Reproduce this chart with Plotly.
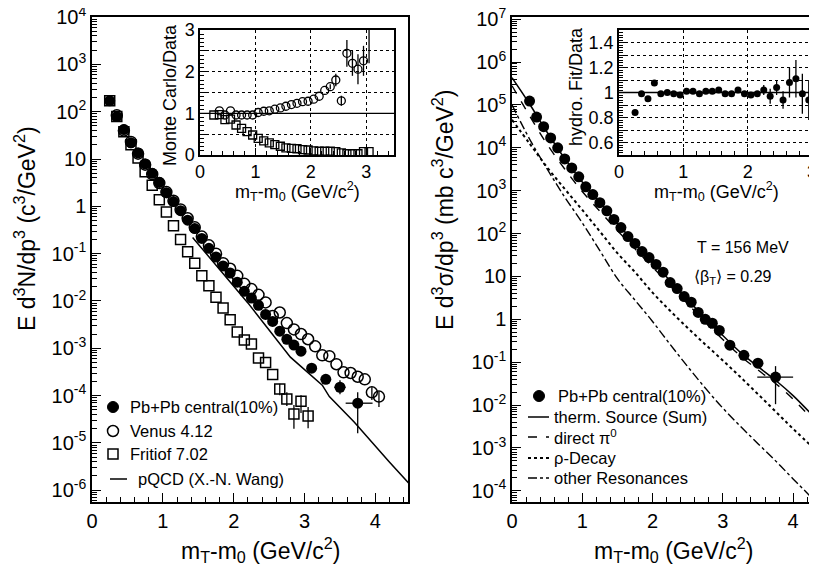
import plotly.graph_objects as go

FONT = "Liberation Sans, Arial, Helvetica, sans-serif"
W, H = 817, 566
OFF = 8  # the page body margin that the browser adds around the figure

# ---------------- Left panel: main spectrum ----------------
left_data_x = [0.25, 0.35, 0.45, 0.55, 0.65, 0.75, 0.85, 0.95, 1.05, 1.15, 1.25, 1.35, 1.45, 1.55,
               1.65, 1.75, 1.85, 1.95, 2.05, 2.15, 2.25, 2.35, 2.45, 2.55, 2.65, 2.75, 2.85, 2.95,
               3.1, 3.3, 3.5, 3.75]
left_data_y = [170, 79, 42, 22, 13.5, 7.9, 5.0, 3.2, 1.95, 1.26, 0.81, 0.51, 0.34, 0.21,
               0.13, 0.085, 0.055, 0.039, 0.025, 0.016, 0.0115, 0.0081, 0.0052, 0.0037, 0.0023,
               0.00155, 0.00117, 0.00087, 3.8e-4, 2.2e-4, 1.5e-4, 6.9e-5]
left_data_eyup = [0] * 28 + [0.76e-4, 0.57e-4, 0.62e-4, 4.8e-5]
left_data_eydn = [0] * 28 + [0.64e-4, 0.45e-4, 0.44e-4, 5.3e-5]
left_data_exup = [0] * 28 + [0.05, 0.07, 0.08, 0.21]
left_data_exdn = [0] * 28 + [0.05, 0.07, 0.08, 0.17]

venus_x = [0.35, 0.45, 0.55, 0.65, 0.75, 0.85, 0.95, 1.05, 1.15, 1.25, 1.35, 1.45, 1.55, 1.65,
           1.75, 1.85, 1.95, 2.05, 2.15, 2.25, 2.35, 2.45, 2.55, 2.65, 2.75, 2.85, 2.95, 3.05,
           3.15, 3.25, 3.35, 3.45, 3.55, 3.65, 3.75, 3.85, 3.95, 4.05]
venus_y = [84, 40, 23, 13, 7.6, 4.8, 3.1, 2.0, 1.32, 0.86, 0.56, 0.36, 0.23, 0.15,
           0.10, 0.063, 0.048, 0.034, 0.023, 0.0178, 0.0135, 0.0093, 0.0048, 0.0057, 0.0034,
           0.0025, 0.002, 0.00155, 0.0011, 7.1e-4, 6.8e-4, 4.6e-4, 3.1e-4, 3.0e-4, 2.5e-4,
           2.2e-4, 1.17e-4, 9.5e-5]
venus_eyup = [0] * 36 + [3.3e-5, 2.5e-5]
venus_eydn = [0] * 36 + [3.6e-5, 3.75e-5]

fritiof_x = [0.25, 0.35, 0.45, 0.55, 0.65, 0.75, 0.85, 0.95, 1.05, 1.15, 1.25, 1.35, 1.45, 1.55,
             1.65, 1.75, 1.85, 1.95, 2.05, 2.15, 2.25, 2.35, 2.45, 2.55, 2.65, 2.75, 2.85, 2.95, 3.05]
fritiof_y = [170, 79, 38, 20, 10.5, 5.4, 2.8, 1.38, 0.76, 0.39, 0.20, 0.11, 0.063, 0.034,
             0.021, 0.012, 0.0071, 0.004, 0.0022, 0.0015, 0.00123, 6.2e-4, 5.0e-4, 2.8e-4,
             1.38e-4, 8.5e-5, 4.1e-5, 7.6e-5, 3.7e-5]
fritiof_eyup = [0] * 24 + [0.4e-4, 3.2e-5, 2.2e-5, 2.6e-5, 2.05e-5]
fritiof_eydn = [0] * 24 + [0.36e-4, 2.5e-5, 2.1e-5, 3.3e-5, 1.66e-5]

pqcd_x = [1.42, 1.8, 2.2, 2.8, 3.25, 3.35, 3.7, 4.2, 4.5]
pqcd_y = [0.22, 0.046, 0.0091, 6.5e-4, 1.66e-4, 9.5e-5, 2.75e-5, 3.9e-6, 1.26e-6]

# ---------------- Left inset: Monte Carlo / Data ----------------
venus_ratio_x = [0.35, 0.45, 0.55, 0.65, 0.75, 0.85, 0.95, 1.05, 1.15, 1.25, 1.35, 1.45, 1.55,
                 1.65, 1.75, 1.85, 1.95, 2.05, 2.15, 2.25, 2.35, 2.45, 2.55, 2.65, 2.75, 2.85,
                 2.95, 3.05]
venus_ratio_y = [1.06, 0.96, 1.06, 0.96, 0.96, 0.96, 0.96, 1.02, 1.05, 1.06, 1.1, 1.13, 1.17,
                 1.21, 1.24, 1.28, 1.29, 1.34, 1.41, 1.55, 1.64, 1.8, 1.3, 2.44, 2.2, 2.06,
                 2.26, 3.6]
venus_ratio_err = [0] * 20 + [0.06, 0.15, 0.12, 0.32, 0.3, 0.36, 0.36, 1.4]

fritiof_ratio_x = [0.25, 0.35, 0.45, 0.55, 0.65, 0.75, 0.85, 0.95, 1.05, 1.15, 1.25, 1.35, 1.45,
                   1.55, 1.65, 1.75, 1.85, 1.95, 2.05, 2.15, 2.25, 2.35, 2.45, 2.55, 2.65, 2.75,
                   2.85, 2.95, 3.05]
fritiof_ratio_y = [0.96, 0.97, 0.85, 0.86, 0.72, 0.64, 0.56, 0.48, 0.40, 0.34, 0.29, 0.25, 0.21,
                   0.17, 0.16, 0.15, 0.13, 0.12, 0.10, 0.09, 0.09, 0.09, 0.08, 0.05, 0.03, 0.03,
                   0.03, 0.08, 0.08]

# ---------------- Right panel: hydro fit ----------------
right_data_x = left_data_x
right_data_y = [1.23e5, 5.2e4, 3.1e4, 1.7e4, 1.0e4, 5.5e3, 3.4e3, 2.1e3, 1.23e3, 810, 525, 340,
                214, 138, 85, 59, 38, 27.5, 19, 12.6, 7.2, 5.2, 3.4, 2.5, 1.45, 1.0, 0.81, 0.55,
                0.25, 0.145, 0.095, 0.045]
right_data_eyup = [0] * 28 + [0.03, 0.021, 0.025, 0.036]
right_data_eydn = [0] * 28 + [0.027, 0.019, 0.02, 0.0345]
right_data_exup = [0] * 28 + [0.05, 0.06, 0.07, 0.25]
right_data_exdn = [0] * 28 + [0.05, 0.06, 0.07, 0.26]

curve_x = [0, 0.25, 0.5, 0.75, 1.0, 1.25, 1.5, 1.75, 2.0, 2.25, 2.5, 2.75, 3.0, 3.25, 3.5, 3.75,
           4.0, 4.35]
therm_sum_y = [4.3e5, 1.05e5, 2.3e4, 5.6e3, 1.6e3, 525, 174, 59, 22.4, 7.9, 2.9, 1.05, 0.42,
               0.17, 0.079, 0.038, 0.0166, 0.0043]
direct_pi0_y = [2.8e5, 5.6e4, 1.2e4, 3.2e3, 955, 331, 117, 44, 16.6, 6.2, 2.3, 0.85, 0.34,
                0.14, 0.066, 0.032, 0.0138, 0.0034]
rho_decay_y = [4.5e4, 1.26e4, 3.5e3, 1.1e3, 355, 112, 35, 12.6, 4.2, 1.58, 0.63, 0.26, 0.11,
               0.045, 0.018, 0.0071, 0.0028, 8.1e-4]
other_res_y = [1.0e5, 1.6e4, 3.2e3, 710, 178, 40, 8.9, 2.8, 0.89, 0.26, 0.079, 0.025, 0.0085,
               0.0032, 0.00126, 5.0e-4, 1.9e-4, 5.0e-5]

# ---------------- Right inset: hydro fit / data ----------------
hydro_ratio_x = [0.25, 0.35, 0.45, 0.55, 0.65, 0.75, 0.85, 0.95, 1.05, 1.15, 1.25, 1.35, 1.45,
                 1.55, 1.65, 1.75, 1.85, 1.95, 2.05, 2.15, 2.25, 2.35, 2.45, 2.55, 2.65, 2.75,
                 2.85, 2.95]
hydro_ratio_y = [0.84, 0.99, 0.95, 1.076, 0.99, 1.0, 0.99, 0.98, 1.01, 1.01, 0.99, 1.01, 1.01,
                 1.02, 0.99, 0.99, 1.02, 0.99, 0.98, 0.99, 1.02, 0.97, 1.04, 0.94, 1.08, 1.11,
                 0.99, 0.94]
hydro_ratio_err = [0.01] + [0] * 17 + [0.02, 0.02, 0.04, 0.06, 0.06, 0.07, 0.12, 0.15, 0.16, 0.16]

# legend labels
left_legend_labels = ["Pb+Pb central(10%)", "Venus 4.12", "Fritiof 7.02", "pQCD (X.-N. Wang)"]
right_legend_labels = ["Pb+Pb central(10%)", "therm. Source (Sum)", "direct \u03c0<sup>0</sup>",
                       "\u03c1-Decay", "other Resonances"]

# tick labels
left_y_tickvals = [1e-6, 1e-5, 1e-4, 1e-3, 1e-2, 1e-1, 1, 10, 1e2, 1e3, 1e4]
left_y_ticktext = ["10<sup>-6</sup>", "10<sup>-5</sup>", "10<sup>-4</sup>", "10<sup>-3</sup>",
                   "10<sup>-2</sup>", "10<sup>-1</sup>", "1", "10", "10<sup>2</sup>",
                   "10<sup>3</sup>", "10<sup>4</sup>"]
right_y_tickvals = [1e-4, 1e-3, 1e-2, 1e-1, 1, 10, 1e2, 1e3, 1e4, 1e5, 1e6, 1e7]
right_y_ticktext = ["10<sup>-4</sup>", "10<sup>-3</sup>", "10<sup>-2</sup>", "10<sup>-1</sup>",
                    "1", "10", "10<sup>2</sup>", "10<sup>3</sup>", "10<sup>4</sup>",
                    "10<sup>5</sup>", "10<sup>6</sup>", "10<sup>7</sup>"]
mc_y_tickvals = [0, 0.5, 1, 1.5, 2, 2.5, 3]
mc_y_ticktext = ["0", "", "1", "", "2", "", "3"]
hy_y_tickvals = [0.5, 0.6, 0.7, 0.8, 0.9, 1.0, 1.1, 1.2, 1.3, 1.4, 1.5]
hy_y_ticktext = ["", "0.6", "", "0.8", "", "1", "", "1.2", "", "1.4", ""]

log_minor = [k * 10.0 ** n for n in range(-8, 9) for k in range(2, 10)]

fig = go.Figure()
BLACK = "black"


def errs(up, dn, width=1.3):
    return dict(type="data", symmetric=False, array=up, arrayminus=dn, color=BLACK,
                thickness=width, width=0)


# left main traces
fig.add_trace(go.Scatter(
    x=fritiof_x, y=fritiof_y, mode="markers", name=left_legend_labels[2],
    marker=dict(symbol="square-open", size=10, color=BLACK, line=dict(width=1.5, color=BLACK)),
    error_y=errs(fritiof_eyup, fritiof_eydn), xaxis="x", yaxis="y"))
fig.add_trace(go.Scatter(
    x=venus_x, y=venus_y, mode="markers", name=left_legend_labels[1],
    marker=dict(symbol="circle-open", size=11, color=BLACK, line=dict(width=1.5, color=BLACK)),
    error_y=errs(venus_eyup, venus_eydn), xaxis="x", yaxis="y"))
fig.add_trace(go.Scatter(
    x=pqcd_x, y=pqcd_y, mode="lines", name=left_legend_labels[3],
    line=dict(color=BLACK, width=1.5), xaxis="x", yaxis="y"))
fig.add_trace(go.Scatter(
    x=left_data_x, y=left_data_y, mode="markers", name=left_legend_labels[0],
    marker=dict(symbol="circle", size=11, color=BLACK),
    error_y=errs(left_data_eyup, left_data_eydn),
    error_x=errs(left_data_exup, left_data_exdn), xaxis="x", yaxis="y"))

# right main traces
fig.add_trace(go.Scatter(
    x=curve_x, y=other_res_y, mode="lines", name="other Resonances", line_shape="spline",
    line=dict(color=BLACK, width=1.4, dash="dashdot"), xaxis="x2", yaxis="y2"))
fig.add_trace(go.Scatter(
    x=curve_x, y=rho_decay_y, mode="lines", name="rho-Decay", line_shape="spline",
    line=dict(color=BLACK, width=2, dash="dot"), xaxis="x2", yaxis="y2"))
fig.add_trace(go.Scatter(
    x=curve_x, y=direct_pi0_y, mode="lines", name="direct pi0", line_shape="spline",
    line=dict(color=BLACK, width=1.4, dash="dash"), xaxis="x2", yaxis="y2"))
fig.add_trace(go.Scatter(
    x=curve_x, y=therm_sum_y, mode="lines", name="therm. Source (Sum)", line_shape="spline",
    line=dict(color=BLACK, width=1.5), xaxis="x2", yaxis="y2"))
fig.add_trace(go.Scatter(
    x=right_data_x, y=right_data_y, mode="markers", name="Pb+Pb central(10%)",
    marker=dict(symbol="circle", size=11, color=BLACK),
    error_y=errs(right_data_eyup, right_data_eydn),
    error_x=errs(right_data_exup, right_data_exdn), xaxis="x2", yaxis="y2"))

# left inset traces
fig.add_trace(go.Scatter(
    x=fritiof_ratio_x, y=fritiof_ratio_y, mode="markers",
    marker=dict(symbol="square-open", size=8, color=BLACK, line=dict(width=1.3, color=BLACK)),
    xaxis="x3", yaxis="y3"))
fig.add_trace(go.Scatter(
    x=venus_ratio_x, y=venus_ratio_y, mode="markers",
    marker=dict(symbol="circle-open", size=8, color=BLACK, line=dict(width=1.3, color=BLACK)),
    error_y=dict(type="data", array=venus_ratio_err, color=BLACK, thickness=1.3, width=0),
    xaxis="x3", yaxis="y3"))

# right inset trace
fig.add_trace(go.Scatter(
    x=hydro_ratio_x, y=hydro_ratio_y, mode="markers",
    marker=dict(symbol="circle", size=7, color=BLACK),
    error_y=dict(type="data", array=hydro_ratio_err, color=BLACK, thickness=1.3, width=0),
    xaxis="x4", yaxis="y4"))

fig.update_traces(showlegend=False)


def px_x(p):
    return (p - OFF) / W


def px_y(p):
    return 1 - (p - OFF) / H


main_y_dom = [px_y(502), px_y(17)]
inset_y_dom = [px_y(155), px_y(30)]

axis_common = dict(showline=True, linecolor=BLACK, linewidth=1.5, ticks="inside",
                   tickcolor=BLACK, showgrid=False, zeroline=False, automargin=False,
                   ticklabeloverflow="allow",
                   tickfont=dict(family=FONT, size=20, color=BLACK))
inset_font = dict(family=FONT, size=18, color=BLACK)

fig.update_layout(
    width=W, height=H, margin=dict(l=0, r=0, t=0, b=0, autoexpand=False),
    paper_bgcolor="white", plot_bgcolor="rgba(0,0,0,0)", showlegend=False,
    font=dict(family=FONT, color=BLACK),
    xaxis=dict(axis_common, domain=[px_x(92), px_x(408)], range=[0, 4.46], anchor="y",
               mirror=True, tickmode="linear", tick0=0, dtick=1, ticklen=9, tickwidth=1.3,
               minor=dict(ticks="inside", ticklen=5, tickwidth=1.1, tickcolor=BLACK, dtick=0.2, tick0=0)),
    yaxis=dict(axis_common, domain=main_y_dom, type="log", range=[-6.25, 4.003], anchor="x",
               mirror=True, tickmode="array", tickvals=left_y_tickvals, ticktext=left_y_ticktext,
               ticklen=9, tickwidth=1.3,
               minor=dict(ticks="inside", ticklen=5, tickwidth=1.1, tickcolor=BLACK,
                          tickmode="array", tickvals=log_minor)),
    xaxis2=dict(axis_common, domain=[px_x(512), px_x(817)], range=[0, 4.34], anchor="y2",
                mirror=True, tickmode="linear", tick0=0, dtick=1, ticklen=9, tickwidth=1.3,
                minor=dict(ticks="inside", ticklen=5, tickwidth=1.1, tickcolor=BLACK, dtick=0.2, tick0=0)),
    yaxis2=dict(axis_common, domain=main_y_dom, type="log", range=[-4.26, 7.05], anchor="x2",
                tickmode="array", tickvals=right_y_tickvals, ticktext=right_y_ticktext,
                ticklen=9, tickwidth=1.3,
                minor=dict(ticks="inside", ticklen=5, tickwidth=1.1, tickcolor=BLACK,
                           tickmode="array", tickvals=log_minor)),
    xaxis3=dict(axis_common, domain=[px_x(200), px_x(394)], range=[0, 3.5], anchor="y3",
                mirror=True, tickmode="linear", tick0=0, dtick=1, ticklen=7, tickwidth=1.2,
                tickfont=inset_font,
                showgrid=True, gridcolor=BLACK, gridwidth=1, griddash="dot",
                minor=dict(ticks="inside", ticklen=4, tickwidth=1, tickcolor=BLACK, dtick=0.2, tick0=0,
                           showgrid=False)),
    yaxis3=dict(axis_common, domain=inset_y_dom, range=[0, 3], anchor="x3", mirror=True,
                tickmode="array", tickvals=mc_y_tickvals, ticktext=mc_y_ticktext,
                ticklen=7, tickwidth=1.2, tickfont=inset_font,
                showgrid=True, gridcolor=BLACK, gridwidth=1, griddash="dot",
                minor=dict(ticks="inside", ticklen=4, tickwidth=1, tickcolor=BLACK, dtick=0.1, tick0=0,
                           showgrid=False)),
    xaxis4=dict(axis_common, domain=[px_x(619), px_x(812)], range=[0, 3.0], anchor="y4",
                mirror=True, tickmode="linear", tick0=0, dtick=1, ticklen=7, tickwidth=1.2,
                tickfont=inset_font,
                showgrid=True, gridcolor=BLACK, gridwidth=1, griddash="dot",
                minor=dict(ticks="inside", ticklen=4, tickwidth=1, tickcolor=BLACK, dtick=0.2, tick0=0,
                           showgrid=False)),
    yaxis4=dict(axis_common, domain=inset_y_dom, range=[0.5, 1.5], anchor="x4", mirror=True,
                tickmode="array", tickvals=hy_y_tickvals, ticktext=hy_y_ticktext,
                ticklen=7, tickwidth=1.2, tickfont=inset_font,
                showgrid=True, gridcolor=BLACK, gridwidth=1, griddash="dot",
                minor=dict(ticks="inside", ticklen=4, tickwidth=1, tickcolor=BLACK, dtick=0.02, tick0=0.5,
                           showgrid=False)),
)

# reference lines at ratio = 1 in the insets
fig.add_shape(type="line", xref="x3 domain", yref="y3", x0=0, x1=1, y0=1, y1=1,
              line=dict(color=BLACK, width=1.3))
fig.add_shape(type="line", xref="x4 domain", yref="y4", x0=0, x1=1, y0=1, y1=1,
              line=dict(color=BLACK, width=1.3))


# ---------------- hand-placed legends (ROOT style) ----------------
def legend_marker(cx, cy, kind, size):
    r = size / 2.0
    x0, x1, y0, y1 = px_x(cx - r), px_x(cx + r), px_y(cy + r), px_y(cy - r)
    if kind == "filled":
        fig.add_shape(type="circle", xref="paper", yref="paper", x0=x0, x1=x1, y0=y0, y1=y1,
                      fillcolor=BLACK, line=dict(color=BLACK, width=1))
    elif kind == "circle":
        fig.add_shape(type="circle", xref="paper", yref="paper", x0=x0, x1=x1, y0=y0, y1=y1,
                      line=dict(color=BLACK, width=1.5))
    elif kind == "square":
        fig.add_shape(type="rect", xref="paper", yref="paper", x0=x0, x1=x1, y0=y0, y1=y1,
                      line=dict(color=BLACK, width=1.5))


def legend_line(xa, xb, cy, dash, width):
    fig.add_shape(type="line", xref="paper", yref="paper", x0=px_x(xa), x1=px_x(xb),
                  y0=px_y(cy), y1=px_y(cy), line=dict(color=BLACK, width=width, dash=dash))


def legend_text(text, x, cy, size=16.5):
    fig.add_annotation(text=text, x=px_x(x), y=px_y(cy), xref="paper", yref="paper",
                       showarrow=False, xanchor="left", yanchor="middle",
                       font=dict(family=FONT, size=size, color=BLACK))


left_rows = [407, 431, 454, 479]
legend_marker(113, left_rows[0], "filled", 11)
legend_marker(113, left_rows[1], "circle", 11)
legend_marker(113, left_rows[2], "square", 10)
legend_line(110, 127, left_rows[3], "solid", 1.5)
for i, lab in enumerate(left_legend_labels):
    legend_text(lab, 128 if i < 3 else 136, left_rows[i])

right_rows = [396, 417, 437, 458, 478]
legend_marker(539, right_rows[0], "filled", 11)
legend_line(528, 549, right_rows[1], "solid", 1.5)
legend_line(528, 549, right_rows[2], "dash", 1.4)
legend_line(528, 549, right_rows[3], "dot", 2)
legend_line(528, 549, right_rows[4], "dashdot", 1.4)
for i, lab in enumerate(right_legend_labels):
    legend_text(lab, 556 if i == 0 else 552, right_rows[i])

xtitle = "m<sub>T</sub>-m<sub>0</sub> (GeV/c<sup>2</sup>)"
ann = [
    dict(text=xtitle, x=px_x(260), y=px_y(550), size=23),
    dict(text=xtitle, x=px_x(673), y=px_y(550), size=23),
    dict(text=xtitle, x=px_x(297), y=px_y(191), size=18),
    dict(text=xtitle, x=px_x(716), y=px_y(191), size=18),
    dict(text="E d<sup>3</sup>N/dp<sup>3</sup> (c<sup>3</sup>/GeV<sup>2</sup>)",
         x=px_x(25), y=px_y(229), size=23, angle=-90),
    dict(text="E d<sup>3</sup>\u03c3/dp<sup>3</sup> (mb c<sup>3</sup>/GeV<sup>2</sup>)",
         x=px_x(443), y=px_y(210), size=23, angle=-90),
    dict(text="Monte Carlo/Data", x=px_x(170), y=px_y(95), size=18, angle=-90),
    dict(text="hydro. Fit/Data", x=px_x(576), y=px_y(87), size=18, angle=-90),
    dict(text="T = 156 MeV", x=px_x(695), y=px_y(247), size=16, xanchor="left"),
    dict(text="\u27e8\u03b2<sub>T</sub>\u27e9 = 0.29", x=px_x(692), y=px_y(277), size=16,
         xanchor="left"),
]
for a in ann:
    fig.add_annotation(text=a["text"], x=a["x"], y=a["y"], xref="paper", yref="paper",
                       showarrow=False, textangle=a.get("angle", 0),
                       xanchor=a.get("xanchor", "center"), yanchor="middle",
                       font=dict(family=FONT, size=a["size"], color=BLACK))

fig.write_html("out.html")
